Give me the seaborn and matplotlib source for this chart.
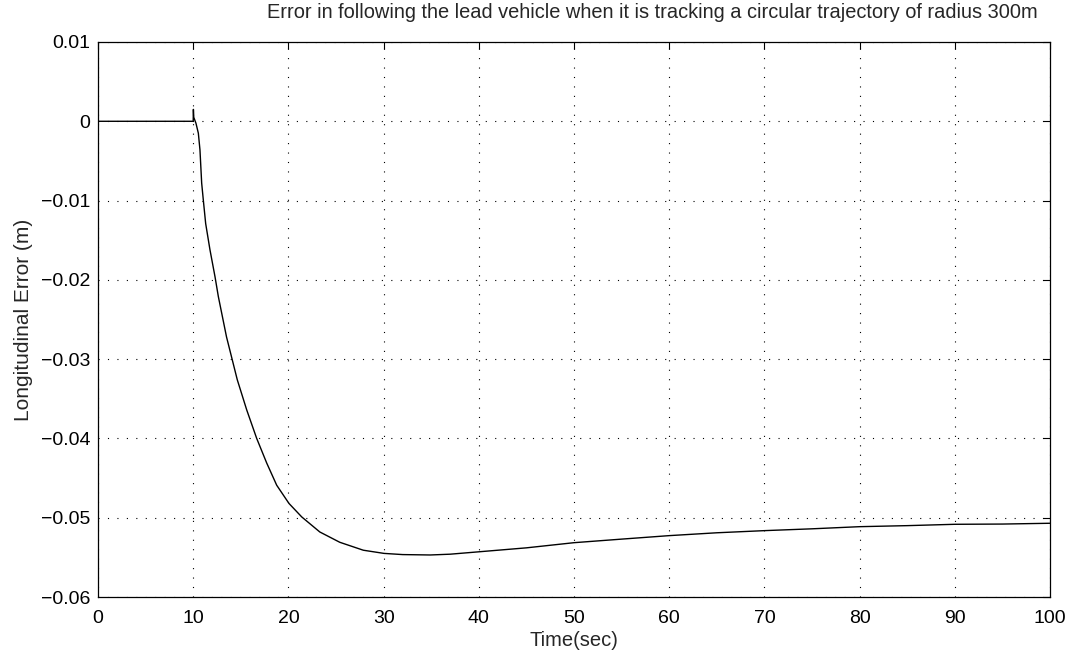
import matplotlib
matplotlib.use("Agg")
import matplotlib.pyplot as plt
import seaborn as sns
import pandas as pd

time_sec = [0, 10, 10.02, 10.06, 10.29, 10.54, 10.71, 10.89, 11.06, 11.31, 11.76,
            12.29, 12.64, 13.5, 14.63, 15.62, 16.67, 17.72, 18.77, 20.06, 21.4,
            23.3, 25.4, 27.87, 30.04, 32, 34.9, 37, 40, 45, 50, 55, 60, 65, 70,
            75, 80, 85, 90, 95, 100]
long_error = [0, 0, 0.0015, 0.0005, -0.00025, -0.0015, -0.0036, -0.0078, -0.0099,
              -0.0129, -0.0162, -0.0196, -0.0221, -0.0272, -0.0326, -0.0364,
              -0.04, -0.0431, -0.0459, -0.0482, -0.0499, -0.0518, -0.0531,
              -0.0541, -0.0545, -0.05465, -0.0547, -0.0546, -0.0543, -0.0538,
              -0.05315, -0.0527, -0.05226, -0.0519, -0.05163, -0.0514, -0.05113,
              -0.0510, -0.05083, -0.0508, -0.0507]
x_ticks = [0, 10, 20, 30, 40, 50, 60, 70, 80, 90, 100]
y_ticks = [0.01, 0, -0.01, -0.02, -0.03, -0.04, -0.05, -0.06]
y_tick_labels = ["0.01", "0", "\u22120.01", "\u22120.02", "\u22120.03", "\u22120.04", "\u22120.05", "\u22120.06"]

df = pd.DataFrame({"t": time_sec, "e": long_error})

sns.set_style("white")
plt.rcParams["font.family"] = ["Liberation Sans", "DejaVu Sans"]

fig = plt.figure(figsize=(10.74, 6.56), dpi=100)
ax = fig.add_axes([98 / 1074, 59 / 656, 952 / 1074, 555 / 656])

sns.lineplot(data=df, x="t", y="e", ax=ax, color="black", linewidth=1.0,
             estimator=None, sort=False)

ax.set_xlim(0, 100)
ax.set_ylim(-0.06, 0.01)
ax.set_xticks(x_ticks)
ax.set_xticklabels([str(v) for v in x_ticks])
ax.set_yticks(y_ticks)
ax.set_yticklabels(y_tick_labels)
ax.tick_params(direction="in", length=5, width=0.8, top=True, right=True,
               labelsize=14, colors="black")
ax.tick_params(axis="x", pad=9.5)
ax.tick_params(axis="y", pad=5.5)
ax.grid(True, linestyle=(0, (1, 7.5)), color="black", linewidth=0.8)
for s in ax.spines.values():
    s.set_color("black")
    s.set_linewidth(0.9)

ax.set_xlabel("Time(sec)", fontsize=14.5, labelpad=3)
ax.set_ylabel("Longitudinal Error (m)", fontsize=15, labelpad=6)
ax.set_title("Error in following the lead vehicle when it is tracking a circular trajectory of radius 300m",
             fontsize=14.4, pad=17, x=0.582)

fig.savefig("out.png", dpi=100)
